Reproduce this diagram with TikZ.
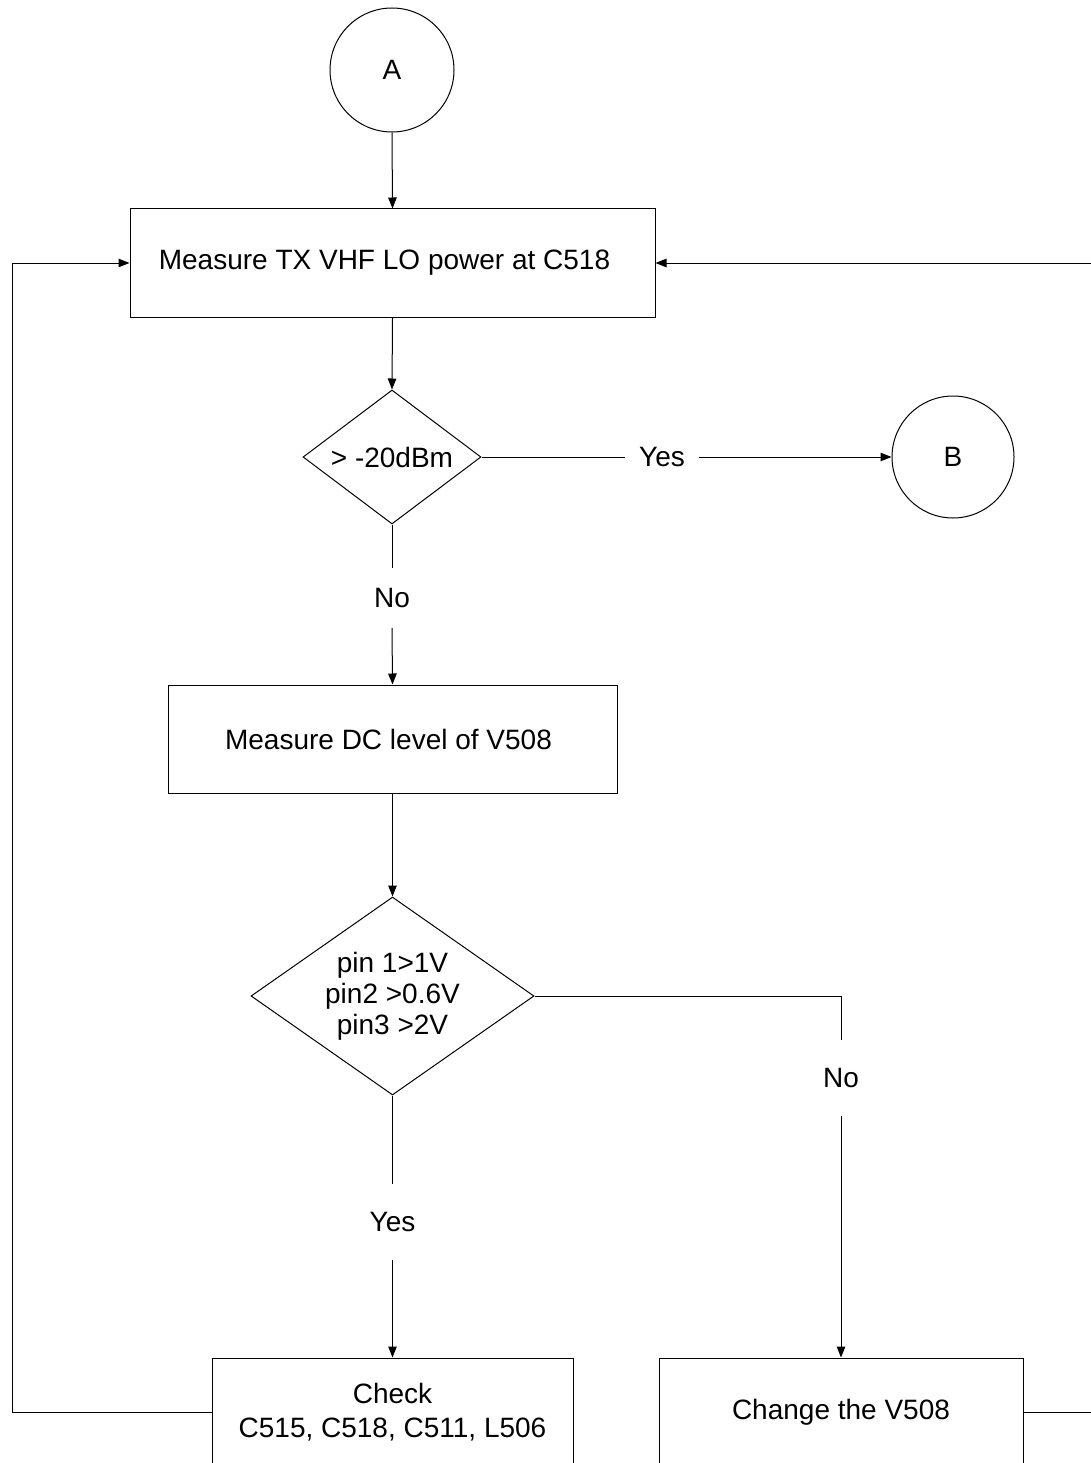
\documentclass[tikz,border=0pt]{standalone}
\usepackage{fontspec}
\setmainfont{Liberation Sans}
\usetikzlibrary{shapes.geometric,arrows.meta}
\begin{document}
\begin{tikzpicture}[x=1pt,y=-1pt,
  every node/.style={font=\fontsize{28}{31}\selectfont},
  line/.style={draw=black, line width=1pt},
  arr/.style={line, -{Triangle[length=11pt,width=8.5pt]}},
  box/.style={line, rectangle, minimum width=#1, minimum height=108, inner sep=0pt, align=center},
  term/.style={line, circle, minimum size=#1, inner sep=0pt},
  decision/.style={line, diamond, inner sep=0pt, align=center},
  lbl/.style={inner xsep=14pt, inner ysep=#1}
]
\useasboundingbox (0,0) rectangle (1090,1463);

% flowchart nodes
\node[term=124] (A) at (392,70) {A};
\node[box=525] (m1) at (392.5,263) {Measure TX VHF LO power at C518\hspace*{16pt}};
\node[decision, aspect=1.33, minimum width=178, minimum height=134] (d1) at (392,457) {> -20dBm};
\node[term=122] (B) at (953,457) {B};
\node[lbl=14pt] (yes1) at (662,457) {Yes};
\node[lbl=20pt] (no1) at (392,598) {No};
\node[box=449] (m2) at (392.5,739) {Measure DC level of V508\hspace*{8pt}};
\node[decision, aspect=1.43, minimum width=283, minimum height=198] (d2) at (392.5,996) {pin 1>1V\\pin2 >0.6V\\pin3 >2V};
\node[lbl=28pt] (no2) at (841,1078) {No};
\node[lbl=28pt] (yes2) at (392.5,1222) {Yes};
\node[box=361] (c3) at (392.5,1412) {Check\\[3pt]C515, C518, C511, L506};
\node[box=364] (c4) at (841,1412) {Change the V508};

\coordinate (lft) at (12,1412);
\coordinate (rgt) at (1110,1412);

% connectors
\draw[arr] (A.south) -- (m1.north);
\draw[arr] (m1.south) -- (d1.north);
\draw[line] (d1.east) -- (yes1.west);
\draw[arr] (yes1.east) -- (B.west);
\draw[line] (d1.south) -- (no1.north);
\draw[arr] (no1.south) -- (m2.north);
\draw[arr] (m2.south) -- (d2.north);
\draw[line] (d2.east) -| (no2.north);
\draw[arr] (no2.south) -- (c4.north);
\draw[line] (d2.south) -- (yes2.north);
\draw[arr] (yes2.south) -- (c3.north);
\draw[arr] (c3.west) -- (lft) |- (m1.west);
\draw[arr] (c4.east) -- (rgt) |- (m1.east);
\end{tikzpicture}
\end{document}
